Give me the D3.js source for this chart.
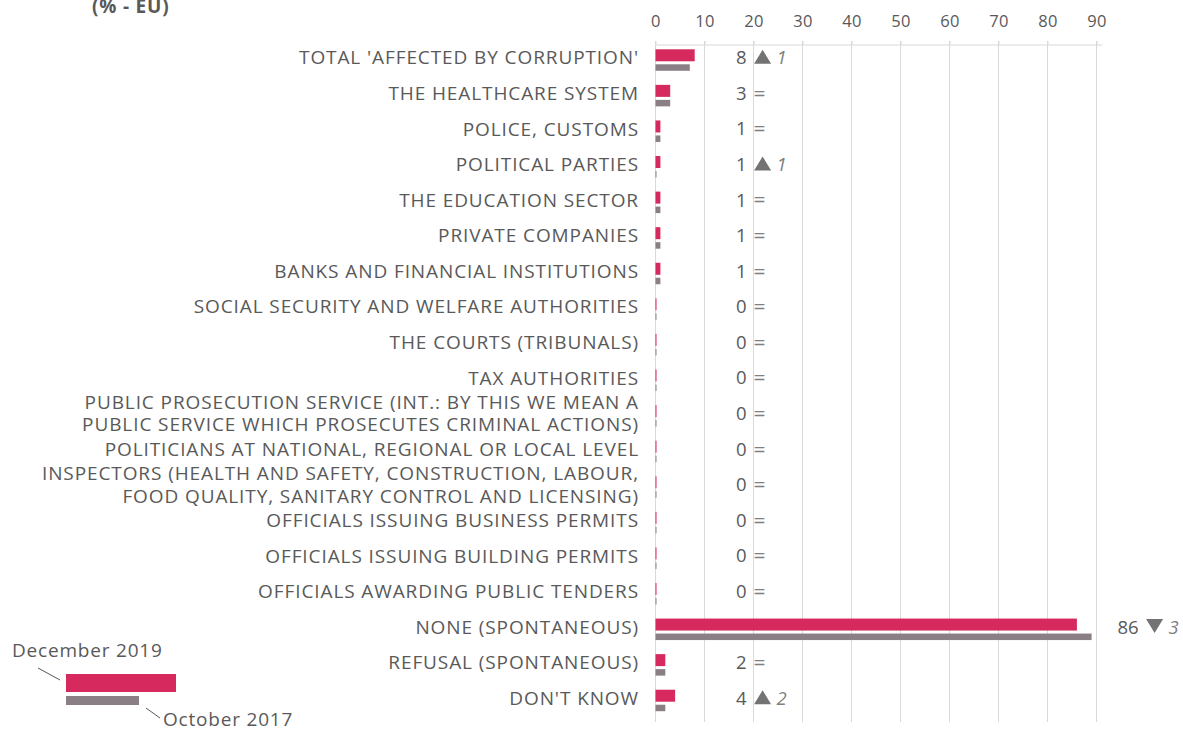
<!DOCTYPE html>
<html>
<head>
<meta charset="utf-8">
<script src="https://cdn.jsdelivr.net/npm/d3@7"></script>
<style>
  html, body { margin: 0; padding: 0; background: #fff; }
  svg { display: block; font-family: "Open Sans", "Noto Sans", sans-serif; }
</style>
</head>
<body>
<svg id="chart" width="1183" height="732"></svg>
<script>
// Categories (one entry per row; "\n" splits a label over two lines)
const categories = [
  "TOTAL 'AFFECTED BY CORRUPTION'",
  "THE HEALTHCARE SYSTEM",
  "POLICE, CUSTOMS",
  "POLITICAL PARTIES",
  "THE EDUCATION SECTOR",
  "PRIVATE COMPANIES",
  "BANKS AND FINANCIAL INSTITUTIONS",
  "SOCIAL SECURITY AND WELFARE AUTHORITIES",
  "THE COURTS (TRIBUNALS)",
  "TAX AUTHORITIES",
  "PUBLIC PROSECUTION SERVICE (INT.: BY THIS WE MEAN A\nPUBLIC SERVICE WHICH PROSECUTES CRIMINAL ACTIONS)",
  "POLITICIANS AT NATIONAL, REGIONAL OR LOCAL LEVEL",
  "INSPECTORS (HEALTH AND SAFETY, CONSTRUCTION, LABOUR,\nFOOD QUALITY, SANITARY CONTROL AND LICENSING)",
  "OFFICIALS ISSUING BUSINESS PERMITS",
  "OFFICIALS ISSUING BUILDING PERMITS",
  "OFFICIALS AWARDING PUBLIC TENDERS",
  "NONE (SPONTANEOUS)",
  "REFUSAL (SPONTANEOUS)",
  "DON'T KNOW"
];

// Share of respondents (%), December 2019 wave
const dec2019 = [8, 3, 1, 1, 1, 1, 1, 0, 0, 0, 0, 0, 0, 0, 0, 0, 86, 2, 4];
// Share of respondents (%), October 2017 wave
const oct2017 = [7, 3, 1, 0, 1, 1, 1, 0, 0, 0, 0, 0, 0, 0, 0, 0, 89, 2, 2];

const seriesNames = ["December 2019", "October 2017"];
const xTicks = [0, 10, 20, 30, 40, 50, 60, 70, 80, 90];
const unitLabel = "(% - EU)";

const PINK = "#d6295d";
const GREY = "#8b7f86";
const TEXT = "#595959";
const GRID = "#d9d9d9";

const svg = d3.select("#chart");

const x = d3.scaleLinear().domain([0, 90]).range([655.5, 1096.5]);
const y = d3.scaleBand().domain(categories).range([40, 716]);

// Top axis with vertical gridlines
const gridG = svg.append("g");
gridG.selectAll("line.grid")
  .data(xTicks)
  .join("line")
  .attr("x1", d => x(d)).attr("x2", d => x(d))
  .attr("y1", 41).attr("y2", 722)
  .attr("stroke", GRID).attr("stroke-width", 1);

const axis = d3.axisTop(x).tickValues(xTicks).tickSize(4).tickPadding(14);
const axG = svg.append("g").attr("transform", "translate(0,45)").call(axis);
axG.select(".domain").attr("stroke", GRID).attr("d", `M${x(0)},0H${x(90) + 6}`);
axG.selectAll(".tick line").attr("stroke", GRID);
axG.selectAll(".tick text")
  .attr("fill", TEXT)
  .style("font-size", "16.5px")
  .style("letter-spacing", "0.4px")
  .style("font-family", "'Open Sans', sans-serif");

// Unit title (partially above the top edge)
svg.append("text")
  .attr("x", 92).attr("y", 13)
  .attr("fill", TEXT)
  .style("font-size", "19px").style("font-weight", "bold")
  .style("letter-spacing", "0.8px")
  .text(unitLabel);

// Category labels
const lab = svg.append("g").selectAll("text")
  .data(categories)
  .join("text")
  .attr("text-anchor", "end")
  .attr("fill", TEXT)
  .style("font-size", "19px")
  .style("letter-spacing", "0.9px")
  .attr("transform", d => `translate(639,${y(d) + y.bandwidth() / 2})`);
lab.each(function(d) {
  const lines = d.split("\n");
  const t = d3.select(this);
  const lh = 22.5;
  lines.forEach((ln, i) => {
    t.append("tspan")
      .attr("x", 0)
      .attr("y", (i - (lines.length - 1) / 2) * lh)
      .attr("dy", "0.35em")
      .text(ln);
  });
});

const rows = categories.map((c, i) => ({ c, a: dec2019[i], b: oct2017[i] }));
const barW = v => Math.max(1, x(v) - x(0));

// December 2019 bars
svg.append("g").selectAll("rect")
  .data(rows)
  .join("rect")
  .attr("x", x(0))
  .attr("y", d => y(d.c) + y.bandwidth() / 2 - 8.5)
  .attr("width", d => barW(d.a))
  .attr("height", 12)
  .attr("fill", PINK);

// October 2017 bars
svg.append("g").selectAll("rect")
  .data(rows)
  .join("rect")
  .attr("x", x(0))
  .attr("y", d => y(d.c) + y.bandwidth() / 2 + 6.5)
  .attr("width", d => barW(d.b))
  .attr("height", 6.5)
  .attr("fill", GREY);

// Value + change labels
const vg = svg.append("g").selectAll("g")
  .data(rows)
  .join("g")
  .attr("transform", d => {
    const ax = x(Math.max(9, d.a, d.b)) + 47;
    return `translate(${ax},${y(d.c) + y.bandwidth() / 2})`;
  });

vg.append("text")
  .attr("text-anchor", "end")
  .attr("dy", "0.35em")
  .attr("fill", TEXT)
  .style("font-size", "18.5px")
  .text(d => d.a);

vg.each(function(d) {
  const g = d3.select(this);
  const diff = d.a - d.b;
  if (diff === 0) {
    g.append("text")
      .attr("x", 7).attr("dy", "0.35em")
      .attr("fill", "#808080")
      .style("font-size", "21px")
      .text("=");
  } else {
    const up = diff > 0;
    const tri = up
      ? "M0,-7L8.5,7L-8.5,7Z"
      : "M0,7L8.5,-7L-8.5,-7Z";
    g.append("path")
      .attr("d", tri)
      .attr("transform", "translate(16,-1)")
      .attr("fill", "#737373");
    g.append("text")
      .attr("x", 30).attr("dy", "0.35em")
      .attr("fill", "#808080")
      .style("font-size", "18.5px")
      .style("font-style", "italic")
      .text(Math.abs(diff));
  }
});

// Legend
const lg = svg.append("g")
  .style("font-size", "19px")
  .style("letter-spacing", "0.8px");
lg.append("text")
  .attr("x", 12).attr("y", 657)
  .attr("fill", TEXT)
  .text(seriesNames[0]);
lg.append("line")
  .attr("x1", 38).attr("y1", 668).attr("x2", 60).attr("y2", 680)
  .attr("stroke", "#595959").attr("stroke-width", 1);
lg.append("rect")
  .attr("x", 66).attr("y", 674).attr("width", 110).attr("height", 18)
  .attr("fill", PINK);
lg.append("rect")
  .attr("x", 66).attr("y", 696).attr("width", 73).attr("height", 9)
  .attr("fill", GREY);
lg.append("line")
  .attr("x1", 146).attr("y1", 708).attr("x2", 160).attr("y2", 718)
  .attr("stroke", "#595959").attr("stroke-width", 1);
lg.append("text")
  .attr("x", 163).attr("y", 726)
  .attr("fill", TEXT)
  .text(seriesNames[1]);
</script>
</body>
</html>
